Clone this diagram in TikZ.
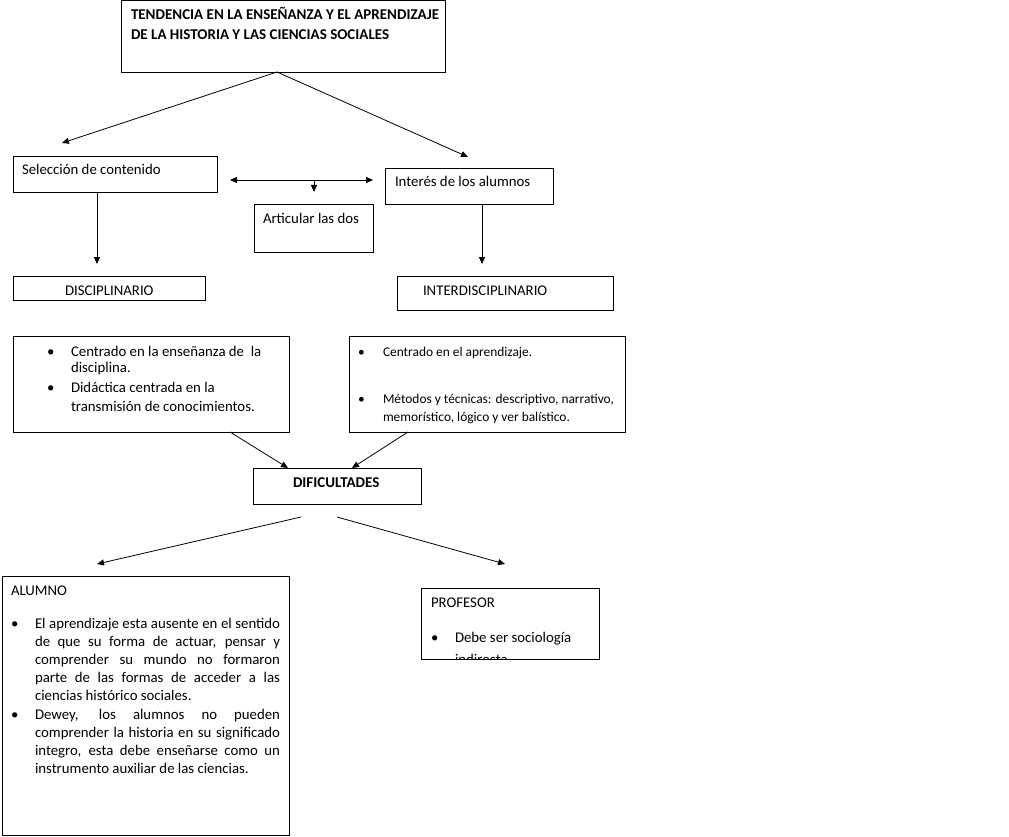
\documentclass[tikz,border=0pt]{standalone}
\usepackage{fontspec}
\setmainfont{Carlito}
\usetikzlibrary{arrows.meta}
\tikzset{
  box/.style={draw, line width=0.8pt, inner sep=0pt, outer sep=0pt, anchor=north west},
  txt/.style={inner sep=0pt, outer sep=0pt, anchor=base west, font=\fontsize{14.8}{18}\selectfont},
  small/.style={inner sep=0pt, outer sep=0pt, anchor=base west, font=\fontsize{13.4}{18}\selectfont},
  bold/.style={inner sep=0pt, outer sep=0pt, anchor=base west, font=\fontsize{15}{20}\selectfont\bfseries},
  arr/.style={line width=0.8pt, -{Triangle[length=7pt,width=6pt]}},
  darr/.style={line width=0.8pt, {Triangle[length=7pt,width=6pt]}-{Triangle[length=7pt,width=6pt]}}
}
\begin{document}
\begin{tikzpicture}[x=1pt,y=-1pt]
\useasboundingbox (0,0) rectangle (1009,837);
\fill[white] (0,0) rectangle (1009,837);

% boxes
\node[box, minimum width=324pt, minimum height=72pt] (title) at (121,0) {};
\node[box, minimum width=204pt, minimum height=36pt] (sel) at (13,156) {};
\node[box, minimum width=168pt, minimum height=36pt] (int) at (385,168) {};
\node[box, minimum width=119pt, minimum height=48pt] (art) at (254,204) {};
\node[box, minimum width=192pt, minimum height=24pt] (disc) at (13,276) {};
\node[box, minimum width=216pt, minimum height=34pt] (inter) at (397,276) {};
\node[box, minimum width=276pt, minimum height=96pt] (lb) at (13,336) {};
\node[box, minimum width=276pt, minimum height=96pt] (rb) at (349,336) {};
\node[box, minimum width=168pt, minimum height=36pt] (dif) at (253,468) {};
\node[box, minimum width=287pt, minimum height=259pt] (alu) at (2,576) {};
\node[box, minimum width=178pt, minimum height=71pt] (prof) at (421,588) {};

% texts
\node[bold] (titletxt) at (131,20) {\vtop{\baselineskip=20pt\hbox{TENDENCIA EN LA ENSEÑANZA Y EL APRENDIZAJE}\hbox{DE LA HISTORIA Y LAS CIENCIAS SOCIALES}}};
\node[txt] (seltxt) at (22,175) {Selección de contenido};
\node[txt] (inttxt) at (395,187) {Interés de los alumnos};
\node[txt] (arttxt) at (263,223) {Articular las dos};
\node[txt] (disctxt) at (65,295) {DISCIPLINARIO};
\node[txt] (intertxt) at (423,295) {INTERDISCIPLINARIO};

\node[txt] (lbb1) at (47,356) {\textbullet};
\node[txt] (lbt1) at (71,356) {\vtop{\baselineskip=16pt\hbox{Centrado en la enseñanza de\ \ la}\hbox{disciplina.}}};
\node[txt] (lbb2) at (47,392) {\textbullet};
\node[txt] (lbt2) at (71,392) {\vtop{\baselineskip=19pt\hbox{Didáctica centrada en la}\hbox{transmisión de conocimientos.}}};

\node[small] (rbb1) at (358,356) {\textbullet};
\node[small] (rbt1) at (383,356) {Centrado en el aprendizaje.};
\node[small] (rbb2) at (358,403) {\textbullet};
\node[small] (rbt2) at (383,403) {\vtop{\baselineskip=18pt\hbox{Métodos y técnicas: descriptivo, narrativo,}\hbox{memorístico, lógico y ver balístico.}}};

\node[bold] (diftxt) at (293,487) {DIFICULTADES};

\node[txt] (alutxt) at (11,595) {ALUMNO};
\node[txt] (alub1) at (11,628) {\textbullet};
\node[txt] (alut) at (35,628) {\vtop{\baselineskip=18.2pt
  \hbox{\makebox[245pt][s]{El aprendizaje esta ausente en el sentido}}
  \hbox{\makebox[245pt][s]{de que su forma de actuar, pensar y}}
  \hbox{\makebox[245pt][s]{comprender su mundo no formaron}}
  \hbox{\makebox[245pt][s]{parte de las formas de acceder a las}}
  \hbox{ciencias histórico sociales.}
  \hbox{\makebox[245pt][s]{Dewey, los alumnos no pueden}}
  \hbox{\makebox[245pt][s]{comprender la historia en su significado}}
  \hbox{\makebox[245pt][s]{integro, esta debe enseñarse como un}}
  \hbox{instrumento auxiliar de las ciencias.}}};
\node[txt] (alub2) at (11,719) {\textbullet};

\node[txt] (proftxt) at (431,607) {PROFESOR};
\begin{scope}
\clip (421.4,588.4) rectangle (598.6,658.6);
\node[txt] (profb) at (431,642) {\textbullet};
\node[txt] (proft) at (455,642) {\vtop{\baselineskip=22pt\hbox{Debe ser sociología}\hbox{indirecta}}};
\end{scope}

% connector coordinates
\coordinate (tsplit) at (277,72);
\coordinate (tipSel) at (62,143);
\coordinate (tipInt) at (468,157);
\coordinate (tipDisc) at (97,264);
\coordinate (tipInter) at (482,264);
\coordinate (dL) at (230,180);
\coordinate (dR) at (373,180);
\coordinate (dM) at (314,180);
\coordinate (tipArt) at (314,192);
\coordinate (lbs) at (230,432);
\coordinate (rbs) at (408,432);
\coordinate (tipDifL) at (288,468);
\coordinate (tipDifR) at (352,468);
\coordinate (difL) at (301,517);
\coordinate (difR) at (337,517);
\coordinate (tipAlu) at (97,564);
\coordinate (tipProf) at (505,564);

% connectors
\draw[arr] (tsplit) -- (tipSel);
\draw[arr] (tsplit) -- (tipInt);
\draw[arr] (sel.south -| tipDisc) -- (tipDisc);
\draw[arr] (int.south -| tipInter) -- (tipInter);
\draw[darr] (dL) -- (dR);
\draw[arr] (dM) -- (tipArt);
\draw[arr] (lbs) -- (tipDifL);
\draw[arr] (rbs) -- (tipDifR);
\draw[arr] (difL) -- (tipAlu);
\draw[arr] (difR) -- (tipProf);
\end{tikzpicture}
\end{document}
